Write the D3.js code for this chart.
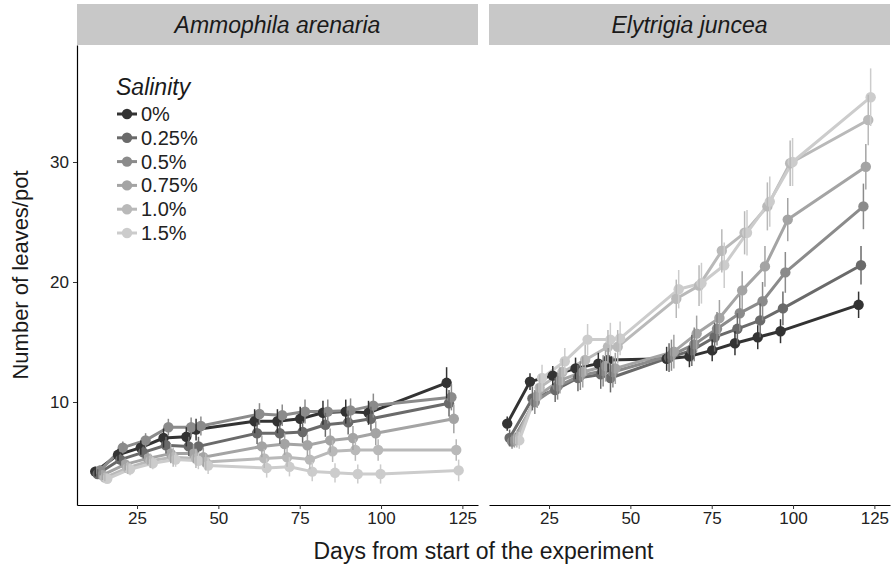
<!DOCTYPE html>
<html><head><meta charset="utf-8">
<script src="https://cdn.jsdelivr.net/npm/d3@7"></script>
<style>
body{margin:0;background:#fff}
text{font-family:"Liberation Sans",Arial,Helvetica,sans-serif}
</style>
</head><body>
<svg id="chart" width="892" height="573"></svg>
<script>
// ---------------- data ----------------
const days = [14, 21, 28, 35, 42, 45, 63, 70, 77, 84, 91, 98, 122];
const salinityLevels = ["0%", "0.25%", "0.5%", "0.75%", "1.0%", "1.5%"];
const species = ["Ammophila arenaria", "Elytrigia juncea"];
const xTicks = [25, 50, 75, 100, 125];
const yTicks = [10, 20, 30];

// Ammophila arenaria: mean leaves/pot per salinity
const ammo0   = [4.2, 5.6, 6.2, 7.0, 7.1, 7.7, 8.4, 8.4, 8.6, 9.1, 9.2, 9.1, 11.6];
const ammo025 = [4.0, 5.2, 5.8, 6.4, 6.3, 6.3, 7.4, 7.4, 7.5, 8.1, 8.3, 8.6, 9.9];
const ammo05  = [4.3, 6.2, 6.8, 7.9, 7.9, 8.0, 9.0, 8.9, 9.2, 9.2, 9.3, 9.7, 10.4];
const ammo075 = [3.9, 4.8, 5.3, 5.7, 5.7, 5.4, 6.3, 6.5, 6.4, 6.8, 7.0, 7.4, 8.6];
const ammo10  = [3.7, 4.5, 5.1, 5.4, 5.3, 5.0, 5.3, 5.4, 5.2, 5.9, 6.0, 6.0, 6.0];
const ammo15  = [3.6, 4.4, 4.9, 5.2, 5.1, 4.7, 4.5, 4.6, 4.2, 4.1, 4.0, 4.0, 4.3];
// Ammophila arenaria: standard errors
const ammoSe0   = [0.4, 0.5, 0.6, 0.8, 0.8, 0.9, 1.0, 1.0, 1.0, 1.0, 1.0, 1.0, 1.3];
const ammoSe025 = [0.4, 0.5, 0.5, 0.7, 0.8, 0.8, 0.9, 0.9, 0.9, 1.0, 1.0, 1.0, 1.1];
const ammoSe05  = [0.4, 0.5, 0.6, 0.7, 0.8, 0.8, 0.9, 0.9, 1.0, 1.0, 1.0, 1.0, 1.1];
const ammoSe075 = [0.4, 0.5, 0.5, 0.8, 0.8, 0.8, 0.9, 0.9, 0.9, 1.0, 1.0, 1.0, 1.2];
const ammoSe10  = [0.3, 0.5, 0.6, 0.8, 0.8, 0.7, 0.8, 0.8, 0.8, 0.9, 0.9, 0.9, 0.9];
const ammoSe15  = [0.3, 0.5, 0.5, 0.6, 0.7, 0.7, 0.8, 0.8, 0.8, 0.8, 0.8, 0.8, 0.9];

// Elytrigia juncea: mean leaves/pot per salinity
const ely0   = [8.2, 11.7, 12.2, 12.8, 13.2, 13.5, 13.6, 13.8, 14.3, 14.9, 15.4, 15.9, 18.1];
const ely025 = [7.0, 10.3, 11.0, 12.0, 12.3, 12.0, 13.7, 14.3, 15.4, 16.1, 16.8, 17.8, 21.4];
const ely05  = [6.7, 10.0, 11.3, 12.2, 12.6, 12.5, 13.9, 14.8, 16.1, 17.4, 18.4, 20.8, 26.3];
const ely075 = [6.8, 10.5, 11.8, 12.5, 13.0, 12.8, 14.2, 15.7, 17.0, 19.3, 21.3, 25.2, 29.6];
const ely10  = [6.9, 11.2, 12.5, 13.5, 14.6, 14.6, 18.6, 19.7, 22.6, 24.1, 26.3, 29.9, 33.5];
const ely15  = [6.8, 12.0, 13.4, 15.2, 15.2, 15.3, 19.4, 19.9, 21.4, 24.1, 26.7, 30.0, 35.4];
// Elytrigia juncea: standard errors
const elySe0   = [0.6, 0.7, 0.8, 0.9, 0.9, 1.0, 1.0, 0.9, 0.9, 1.0, 1.0, 1.0, 1.1];
const elySe025 = [0.7, 1.0, 1.0, 1.1, 1.2, 1.2, 1.2, 1.3, 1.2, 1.3, 1.4, 1.4, 1.6];
const elySe05  = [0.6, 1.0, 1.1, 1.2, 1.3, 1.3, 1.3, 1.4, 1.4, 1.5, 1.6, 1.7, 1.9];
const elySe075 = [0.6, 1.0, 1.1, 1.3, 1.3, 1.3, 1.4, 1.5, 1.5, 1.6, 1.7, 1.8, 1.9];
const elySe10  = [0.7, 1.1, 1.1, 1.3, 1.4, 1.4, 1.6, 1.7, 1.8, 1.8, 2.0, 1.9, 2.1];
const elySe15  = [0.7, 1.1, 1.1, 1.3, 1.4, 1.4, 1.6, 1.7, 1.9, 1.9, 2.1, 2.0, 2.4];

const panelMeans = [[ammo0, ammo025, ammo05, ammo075, ammo10, ammo15],
                    [ely0, ely025, ely05, ely075, ely10, ely15]];
const panelSes = [[ammoSe0, ammoSe025, ammoSe05, ammoSe075, ammoSe10, ammoSe15],
                  [elySe0, elySe025, elySe05, elySe075, elySe10, elySe15]];

// ---------------- style / layout ----------------
const colors = ["#333333", "#6a6a6a", "#8b8b8b", "#a4a4a4", "#b9b9b9", "#cccccc"];
const W = 892, H = 573;
const panelTop = 45, panelBottom = 505;
const panelX = [[77, 478], [489, 890]];
const stripTop = 4;
const dodge = 0.74;

const svg = d3.select("#chart");
svg.append("rect").attr("width", W).attr("height", H).attr("fill", "#fff");

const y = d3.scaleLinear().domain([1.417, 39.75]).range([panelBottom, panelTop]);

species.forEach((sp, p) => {
  const x = d3.scaleLinear().domain([6.55, 129.8]).range(panelX[p]);
  const g = svg.append("g");

  // strip
  g.append("rect").attr("x", panelX[p][0]).attr("y", stripTop)
    .attr("width", panelX[p][1] - panelX[p][0]).attr("height", panelTop - stripTop)
    .attr("fill", "#c8c8c8");
  g.append("text").attr("x", (panelX[p][0] + panelX[p][1]) / 2).attr("y", 33)
    .attr("text-anchor", "middle").attr("font-style", "italic")
    .attr("font-size", 23).attr("fill", "#1a1a1a").text(sp);

  // x axis
  const xa = g.append("g").attr("transform", `translate(0,${panelBottom})`)
    .call(d3.axisBottom(x).tickValues(xTicks).tickSize(4).tickPadding(3).tickSizeOuter(0));
  xa.select(".domain").attr("stroke", "#000").attr("stroke-width", 1.2);
  xa.selectAll(".tick line").attr("stroke", "#333");
  xa.selectAll(".tick text").attr("font-size", 17).attr("fill", "#222")
    .attr("font-family", "Liberation Sans, Arial, sans-serif");

  if (p === 0) {
    const ya = g.append("g").attr("transform", `translate(${panelX[0][0]},0)`)
      .call(d3.axisLeft(y).tickValues(yTicks).tickSize(4).tickPadding(4).tickSizeOuter(0));
    ya.select(".domain").attr("stroke", "#000").attr("stroke-width", 1.2);
    ya.selectAll(".tick line").attr("stroke", "#333");
    ya.selectAll(".tick text").attr("font-size", 17).attr("fill", "#222")
      .attr("font-family", "Liberation Sans, Arial, sans-serif");
  }

  const means = panelMeans[p], ses = panelSes[p];
  const series = means.map((vals, i) => vals.map((v, k) => ({
    x: x(days[k] + (i - 2.5) * dodge), v, se: ses[i][k]
  })));

  const line = d3.line().x(d => d.x).y(d => y(d.v));
  series.forEach((s, i) => {
    g.append("path").datum(s).attr("d", line).attr("fill", "none")
      .attr("stroke", colors[i]).attr("stroke-width", 3).attr("stroke-linejoin", "round");
  });
  series.forEach((s, i) => {
    g.selectAll(null).data(s).enter().append("circle")
      .attr("cx", d => d.x).attr("cy", d => y(d.v)).attr("r", 5.2).attr("fill", colors[i]);
  });
  series.forEach((s, i) => {
    g.selectAll(null).data(s).enter().append("line")
      .attr("x1", d => d.x).attr("x2", d => d.x)
      .attr("y1", d => y(d.v - d.se)).attr("y2", d => y(d.v + d.se))
      .attr("stroke", colors[i]).attr("stroke-width", 1.5);
  });
});

// axis titles
svg.append("text").attr("x", (panelX[0][0] + panelX[1][1]) / 2).attr("y", 559)
  .attr("text-anchor", "middle").attr("font-size", 23).attr("fill", "#1a1a1a")
  .text("Days from start of the experiment");
svg.append("text").attr("transform", `translate(28,${(panelTop + panelBottom) / 2}) rotate(-90)`)
  .attr("text-anchor", "middle").attr("font-size", 22).attr("fill", "#1a1a1a")
  .text("Number of leaves/pot");

// legend
const lg = svg.append("g");
lg.append("text").attr("x", 116).attr("y", 95).attr("font-size", 23)
  .attr("font-style", "italic").attr("fill", "#1a1a1a").text("Salinity");
salinityLevels.forEach((lab, i) => {
  const cy = 114 + i * 23.8;
  lg.append("line").attr("x1", 117).attr("x2", 137).attr("y1", cy).attr("y2", cy)
    .attr("stroke", colors[i]).attr("stroke-width", 3);
  lg.append("circle").attr("cx", 127).attr("cy", cy).attr("r", 5.2).attr("fill", colors[i]);
  lg.append("text").attr("x", 141).attr("y", cy + 7).attr("font-size", 20)
    .attr("fill", "#222").text(lab);
});
</script>
</body></html>
